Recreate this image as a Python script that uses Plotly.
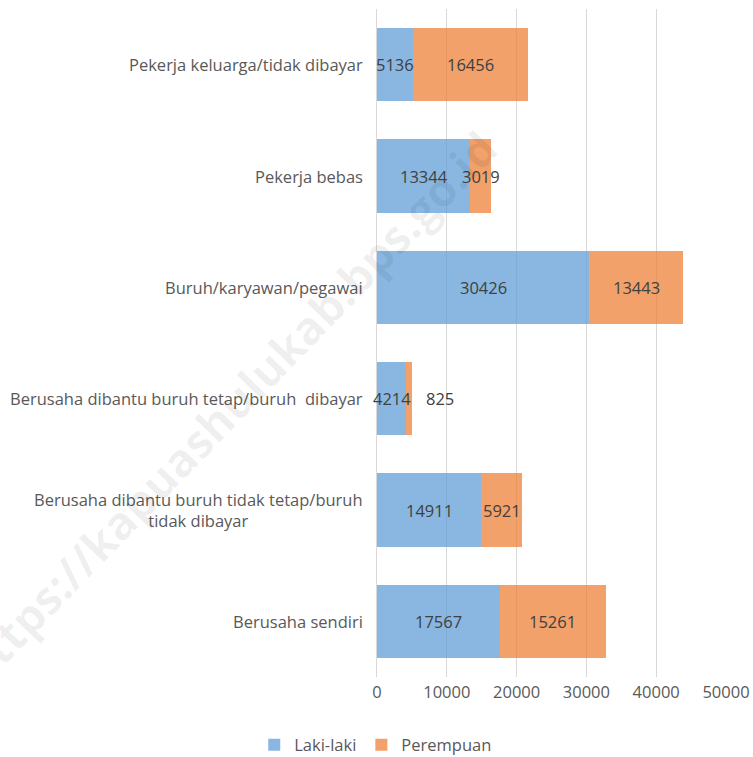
import plotly.graph_objects as go

categories = [
    "Pekerja keluarga/tidak dibayar",
    "Pekerja bebas",
    "Buruh/karyawan/pegawai",
    "Berusaha dibantu buruh tetap/buruh\u00a0 dibayar",
    "Berusaha dibantu buruh tidak tetap/buruh<br>tidak dibayar",
    "Berusaha sendiri",
]
laki = [5136, 13344, 30426, 4214, 14911, 17567]
perempuan = [16456, 3019, 13443, 825, 5921, 15261]
series_names = ["Laki-laki", "Perempuan"]
x_ticks = [0, 10000, 20000, 30000, 40000, 50000]
watermark = "https://kapuashulukab.bps.go.id"

W, H = 753, 757
ML, MR, MT, MB = 377, 27, 9, 80

blue = "rgba(91,155,213,0.72)"
orange = "rgba(237,125,49,0.72)"
txt = "#595959"
lbl = "#404040"
font_family = "Open Sans, Liberation Sans, sans-serif"

fig = go.Figure()
fig.add_trace(go.Bar(y=categories, x=laki, name=series_names[0], orientation="h",
                     marker=dict(color=blue, line=dict(width=0)), hoverinfo="x+y"))
fig.add_trace(go.Bar(y=categories, x=perempuan, name=series_names[1], orientation="h",
                     marker=dict(color=orange, line=dict(width=0)), hoverinfo="x+y"))

annotations = []
for c in categories:
    annotations.append(dict(x=0, xref="paper", y=c, yref="y", text=c, showarrow=False,
                            xanchor="right", xshift=-12, align="center",
                            font=dict(family=font_family, size=16.5, color=txt)))
for c, a, b in zip(categories, laki, perempuan):
    annotations.append(dict(x=a / 2, y=c, xref="x", yref="y", text=str(a), showarrow=False,
                            font=dict(family=font_family, size=16.5, color=lbl)))
    if b < 2000:
        annotations.append(dict(x=a + b, y=c, xref="x", yref="y", text=str(b), showarrow=False,
                                xanchor="left", xshift=12,
                                font=dict(family=font_family, size=16.5, color=lbl)))
    else:
        annotations.append(dict(x=a + b / 2, y=c, xref="x", yref="y", text=str(b), showarrow=False,
                                font=dict(family=font_family, size=16.5, color=lbl)))

plot_w = W - ML - MR
plot_h = H - MT - MB
wm_cx, wm_cy = 228, 408
annotations.append(dict(x=(wm_cx - ML) / plot_w, y=(H - MB - wm_cy) / plot_h,
                        xref="paper", yref="paper", xanchor="center", yanchor="middle",
                        text="<b>" + watermark + "</b>", showarrow=False, textangle=-46,
                        font=dict(family=font_family, size=46, color="rgba(0,0,0,0.06)")))

fig.update_layout(
    width=W, height=H,
    barmode="stack", bargap=0.34,
    paper_bgcolor="white", plot_bgcolor="white",
    margin=dict(l=ML, r=MR, t=MT, b=MB, autoexpand=False),
    font=dict(family=font_family, size=16.5, color=txt),
    xaxis=dict(range=[0, 50000], tickvals=x_ticks, ticktext=[str(v) for v in x_ticks],
               showgrid=True, gridcolor="#d9d9d9", gridwidth=1, zeroline=False,
               showline=False, ticks="", tickfont=dict(size=16.5, color=txt),
               ticklabelstandoff=3, fixedrange=True),
    yaxis=dict(autorange="reversed", showticklabels=False, showgrid=False, zeroline=False,
               showline=True, linecolor="#d9d9d9", linewidth=1, ticks="", fixedrange=True),
    legend=dict(orientation="h", x=0.499, xanchor="center", xref="container",
                y=12 / H, yanchor="middle", yref="container",
                font=dict(size=16.5, color=txt), traceorder="normal",
                itemwidth=30),
    showlegend=True,
    annotations=annotations,
)

fig.write_html("out.html", config={"displayModeBar": False},
               post_script="document.body.style.margin='0';document.body.style.overflow='hidden';")
